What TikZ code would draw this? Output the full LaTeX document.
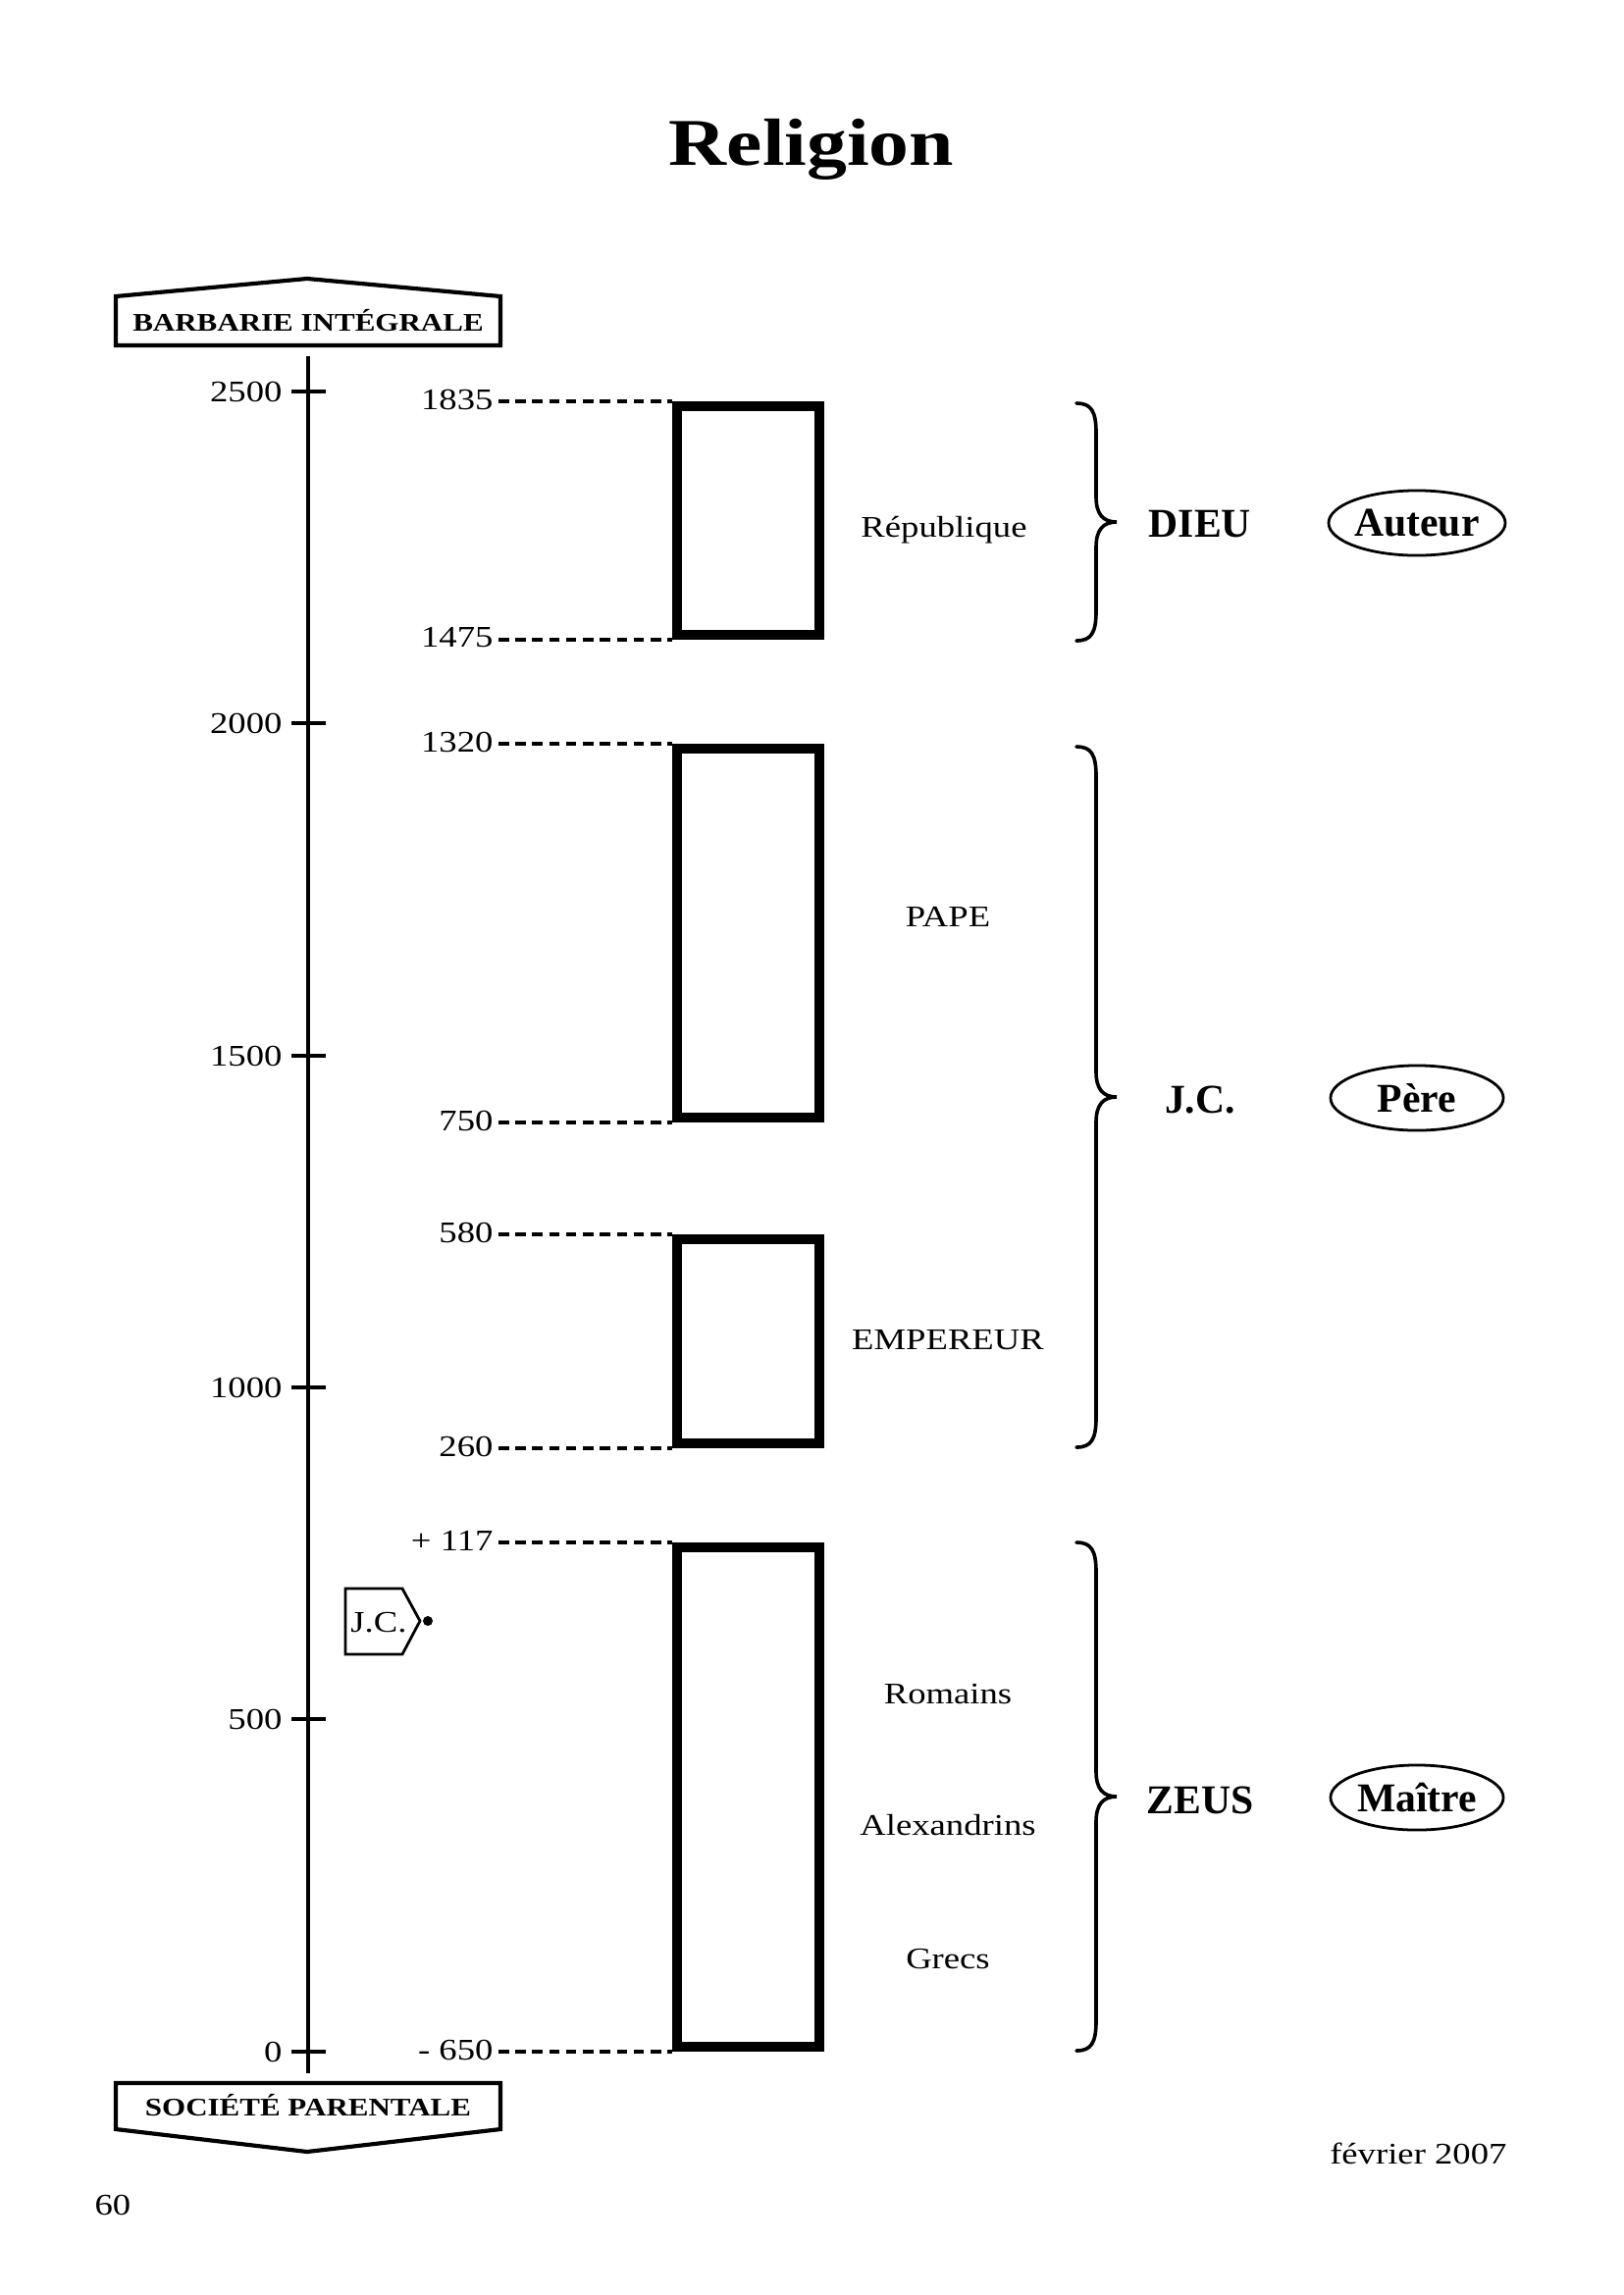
\documentclass[tikz,border=0pt]{standalone}
\usepackage{fontspec}
\setmainfont{Liberation Serif}
\newfontfamily\widefont[FakeStretch=1.2]{Liberation Serif}
\usetikzlibrary{shapes.geometric}
\begin{document}
\begin{tikzpicture}[x=0.36pt, y=-0.36pt,
  lbl/.style={font=\widefont\fontsize{11}{13}\selectfont, inner sep=0pt},
  yr/.style={lbl, anchor=east},
  caplbl/.style={font=\widefont\bfseries\fontsize{9.3}{11}\selectfont, inner sep=0pt},
  boldlbl/.style={font=\bfseries\fontsize{15}{18}\selectfont, inner sep=0pt},
  oval/.style={draw, ellipse, line width=1pt, inner sep=0pt, minimum width=63.4pt, minimum height=23.8pt, font=\bfseries\fontsize{15}{18}\selectfont},
  period/.style={draw, line width=3.6pt, minimum width=52.2pt, inner sep=0pt},
  guide/.style={line width=1.2pt, dash pattern=on 3.8pt off 2.4pt},
  boxln/.style={line width=1.5pt, line join=miter},
  axisln/.style={line width=1.6pt},
  tickln/.style={line width=1.6pt},
  brc/.style={line width=1.3pt, line cap=round}
]
\path[use as bounding box] (0,0) rectangle (1654,2339);

% title
\node[anchor=base, font=\widefont\bfseries\fontsize{24.5}{28}\selectfont, inner sep=0pt] (title) at (827,168) {Religion};

% top and bottom boxes
\node[caplbl, anchor=base] (barb) at (314,337) {BARBARIE INTÉGRALE};
\draw[boxln] (118,352) -- (118,302) -- (313,284) -- (510,302) -- (510,352) -- cycle;
\node[caplbl, anchor=base] (soc) at (314,2156) {SOCIÉTÉ PARENTALE};
\draw[boxln] (118,2123) -- (510,2123) -- (510,2170) -- (313,2193) -- (118,2170) -- cycle;

% axis
\coordinate (axtop) at (314,363);
\coordinate (axbot) at (314,2113);
\draw[axisln] (axtop) -- (axbot);
\foreach \v/\y in {2500/399, 2000/737, 1500/1076, 1000/1414, 500/1752, 0/2091}{
  \draw[tickln] (297,\y) -- (332,\y);
  \node[yr] (t\v) at (288,\y) {\v};
}

% period rectangles
\node[period, minimum height=83.9pt] (r1) at (762.5,530.5) {};
\node[period, minimum height=135.4pt] (r2) at (762.5,951) {};
\node[period, minimum height=74.9pt] (r3) at (762.5,1367) {};
\node[period, minimum height=183.3pt] (r4) at (762.5,1831.5) {};

% year labels and dashed guides
\node[yr] (y1835) at (503,407) {1835};
\node[yr] (y1475) at (503,650) {1475};
\node[yr] (y1320) at (503,756) {1320};
\node[yr] (y750) at (503,1142) {750};
\node[yr] (y580) at (503,1256) {580};
\node[yr] (y260) at (503,1474) {260};
\node[yr] (y117) at (503,1570) {+ 117};
\node[yr] (y650) at (503,2089) {- 650};
\coordinate (g1) at (508,409);  \draw[guide] (g1) -- (g1 -| r1.west);
\coordinate (g2) at (508,652);  \draw[guide] (g2) -- (g2 -| r1.west);
\coordinate (g3) at (508,758);  \draw[guide] (g3) -- (g3 -| r2.west);
\coordinate (g4) at (508,1144); \draw[guide] (g4) -- (g4 -| r2.west);
\coordinate (g5) at (508,1258); \draw[guide] (g5) -- (g5 -| r3.west);
\coordinate (g6) at (508,1476); \draw[guide] (g6) -- (g6 -| r3.west);
\coordinate (g7) at (508,1572); \draw[guide] (g7) -- (g7 -| r4.west);
\coordinate (g8) at (508,2091); \draw[guide] (g8) -- (g8 -| r4.west);

% period names
\node[lbl, anchor=base] (rep) at (962,547) {République};
\node[lbl, anchor=base] (pape) at (966,944) {PAPE};
\node[lbl, anchor=base] (emp) at (966,1375) {EMPEREUR};
\node[lbl, anchor=base] (rom) at (966,1736) {Romains};
\node[lbl, anchor=base] (alex) at (966,1870) {Alexandrins};
\node[lbl, anchor=base] (grecs) at (966,2006) {Grecs};

% J.C. marker
\node[lbl] (jcm) at (386,1654) {J.C.};
\draw[line width=1pt] (352,1619) -- (410,1619) -- (428,1652) -- (410,1686) -- (352,1686) -- cycle;
\fill (436,1652) circle[radius=1.8pt];

% braces
\newcommand\mybrace[3]{%
  \draw[brc] (1097,#1) .. controls (1112,#1) and (1117,#1+8) .. (1117,#1+30)
    -- (1117,#2-26) .. controls (1117,#2-8) and (1124,#2) .. (1138,#2)
    .. controls (1124,#2) and (1117,#2+8) .. (1117,#2+26)
    -- (1117,#3-30) .. controls (1117,#3-8) and (1112,#3) .. (1097,#3);}
\mybrace{411}{532}{653}
\mybrace{761}{1118}{1475}
\mybrace{1572}{1831}{2090}

% deities and roles
\node[boldlbl, anchor=base] (dieu) at (1223,547) {DIEU};
\node[boldlbl, anchor=base] (jc) at (1223,1134) {J.C.};
\node[boldlbl, anchor=base] (zeus) at (1223,1848) {ZEUS};
\node[oval] (auteur) at (1444,533) {Auteur};
\node[oval] (pere) at (1444,1119) {Père};
\node[oval] (maitre) at (1444,1832) {Maître};

% footer
\node[lbl, anchor=base east] (date) at (1536,2205) {février 2007};
\node[lbl, anchor=base west] (page) at (96,2257) {60};
\end{tikzpicture}
\end{document}
